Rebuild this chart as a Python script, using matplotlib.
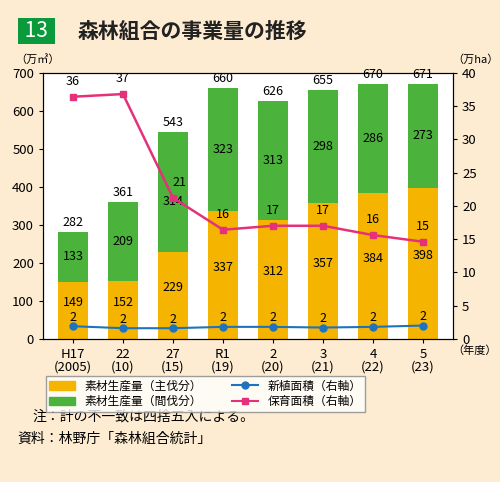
import matplotlib
matplotlib.use("Agg")
import matplotlib.pyplot as plt
import numpy as np
from matplotlib.lines import Line2D
from matplotlib.patches import Patch

plt.rcParams['font.family'] = ['Noto Sans CJK JP', 'DejaVu Sans']

cats = ["H17\n(2005)", "22\n(10)", "27\n(15)", "R1\n(19)", "2\n(20)", "3\n(21)", "4\n(22)", "5\n(23)"]
main_cut = [149, 152, 229, 337, 312, 357, 384, 398]
thin_cut = [133, 209, 314, 323, 313, 298, 286, 273]
totals = [282, 361, 543, 660, 626, 655, 670, 671]
hoiku = [36.4, 36.8, 21.2, 16.4, 17.0, 17.0, 15.6, 14.6]
hoiku_lbl = [36, 37, 21, 16, 17, 17, 16, 15]
shin = [1.9, 1.6, 1.6, 1.8, 1.8, 1.7, 1.8, 2.0]
shin_lbl = [2, 2, 2, 2, 2, 2, 2, 2]

bg = '#fdecd2'
orange = '#f5b400'
green = '#4bb33c'
pink = '#e5317a'
blue = '#1e73be'

fig = plt.figure(figsize=(5.0, 4.82), dpi=100, facecolor=bg)
ax = fig.add_axes([0.086, 0.297, 0.82, 0.552])
ax.set_facecolor('white')
x = np.arange(len(cats))
w = 0.6
ax.bar(x, main_cut, w, color=orange)
ax.bar(x, thin_cut, w, bottom=main_cut, color=green)
for i in range(len(x)):
    ax.text(x[i], main_cut[i] / 2 + 20, str(main_cut[i]), ha='center', va='center', fontsize=9)
    off = -25 if i == 2 else 0
    ax.text(x[i], main_cut[i] + thin_cut[i] / 2 + off, str(thin_cut[i]), ha='center', va='center', fontsize=9)
    ax.text(x[i], totals[i] + 8, str(totals[i]), ha='center', va='bottom', fontsize=9)
ax.set_ylim(0, 700)
ax.set_xlim(-0.6, 7.6)
ax.set_yticks(range(0, 701, 100))
ax.set_xticks(x)
ax.set_xticklabels(cats, fontsize=9, linespacing=1.0)
ax.tick_params(labelsize=9.5, length=3)

ax2 = ax.twinx()
ax2.set_ylim(0, 40)
ax2.set_yticks(range(0, 41, 5))
ax2.tick_params(labelsize=9.5, length=3)
ax2.plot(x, hoiku, color=pink, marker='s', markersize=5, lw=1.8)
ax2.plot(x, shin, color=blue, marker='o', markersize=5, lw=1.5)
for i in range(len(x)):
    dx = 0.12 if i == 2 else 0
    ax2.text(x[i] + dx, hoiku[i] + 1.3, str(hoiku_lbl[i]), ha='center', va='bottom', fontsize=9)
    ax2.text(x[i], shin[i] + 0.4, str(shin_lbl[i]), ha='center', va='bottom', fontsize=9)

fig.text(0.03, 0.87, "（万㎥）", fontsize=8)
fig.text(0.905, 0.87, "（万ha）", fontsize=8)
fig.text(0.905, 0.265, "（年度）", fontsize=8)

fig.text(0.04, 0.935, " 13 ", fontsize=15, color='white', va='center',
         bbox=dict(boxstyle='square,pad=0.1', fc='#0a9a3c', ec='none'))
fig.text(0.155, 0.935, "森林組合の事業量の推移", fontsize=15, weight='bold', va='center', color='#222')

handles = [Patch(color=orange, label="素材生産量（主伐分）"),
           Patch(color=green, label="素材生産量（間伐分）"),
           Line2D([], [], color=blue, marker='o', markersize=5, label="新植面積（右軸）"),
           Line2D([], [], color=pink, marker='s', markersize=5, label="保育面積（右軸）")]
fig.legend(handles=handles, loc='upper left', bbox_to_anchor=(0.08, 0.232), ncol=2,
           frameon=True, facecolor='white', edgecolor='#888', fancybox=False,
           fontsize=8.5, columnspacing=2.5, handlelength=2.2, borderpad=0.3,
           labelspacing=0.2)

fig.text(0.065, 0.135, "注：計の不一致は四捨五入による。", fontsize=10, va='center')
fig.text(0.035, 0.09, "資料：林野庁「森林組合統計」", fontsize=10, va='center')

fig.savefig("out.png", dpi=100, facecolor=bg)
